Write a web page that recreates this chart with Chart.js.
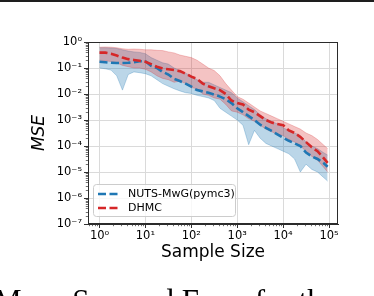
<!DOCTYPE html>
<html>
<head>
<meta charset="utf-8">
<script src="https://cdn.jsdelivr.net/npm/chart.js@4.4.1/dist/chart.umd.min.js"></script>
<style>
  html, body { margin: 0; padding: 0; background: #fff; }
  #wrap { position: relative; width: 374px; height: 296px; overflow: hidden; background: #fff; }
  #topline { position: absolute; left: 0; top: 0; width: 374px; height: 2px; background: #1e1e1e; }
  #caption { position: absolute; left: -6px; top: 285px; font-family: "Liberation Serif", serif; font-size: 31px; line-height: 31px; white-space: nowrap; color: #000; }
  canvas { position: absolute; left: 0; top: 0; }
</style>
</head>
<body>
<div id="wrap">
  <canvas id="c" width="374" height="296"></canvas>
  <div id="topline"></div>
  <div id="caption">Mean Squared Error for the</div>
</div>
<script>
// ---- data ----
const sampleSizes = [1, 1.33, 1.78, 2.37, 3.16, 4.22, 5.62, 7.5, 10, 13.3, 17.8, 23.7, 31.6, 42.2, 56.2, 75,
  100, 133, 178, 237, 316, 422, 562, 750, 1000, 1334, 1778, 2371, 3162, 4217, 5623, 7499,
  10000, 13335, 17783, 23714, 31623, 42170, 56234, 74989, 93325];

// MSE values given as exponents of ten (MSE = 10^e)
const nutsMeanExp = [-0.76,-0.78,-0.80,-0.81,-0.81,-0.80,-0.78,-0.74,-0.74,-0.92,-1.00,-1.15,-1.25,-1.42,-1.50,-1.60,
  -1.72,-1.85,-1.90,-1.95,-2.02,-2.10,-2.20,-2.35,-2.55,-2.70,-2.85,-3.00,-3.18,-3.30,-3.42,-3.55,
  -3.68,-3.80,-3.90,-4.00,-4.25,-4.40,-4.50,-4.65,-4.80];
const nutsUpperExp = [-0.22,-0.22,-0.23,-0.25,-0.30,-0.35,-0.38,-0.40,-0.45,-0.60,-0.70,-0.80,-0.85,-1.00,-1.10,-1.20,
  -1.30,-1.45,-1.55,-1.55,-1.65,-1.75,-1.85,-1.95,-2.15,-2.30,-2.45,-2.60,-2.80,-2.95,-3.05,-3.15,
  -3.30,-3.40,-3.50,-3.60,-3.85,-4.00,-4.10,-4.25,-4.35];
const nutsLowerExp = [-1.00,-1.03,-1.08,-1.30,-1.85,-1.25,-1.15,-1.18,-1.22,-1.30,-1.45,-1.60,-1.70,-1.80,-1.88,-1.95,
  -1.98,-2.05,-2.10,-2.15,-2.25,-2.55,-2.70,-2.85,-3.00,-3.20,-3.95,-3.40,-3.70,-3.90,-4.00,-4.10,
  -4.20,-4.30,-4.50,-5.00,-4.70,-4.90,-5.00,-5.20,-5.35];
const dhmcMeanExp = [-0.41,-0.41,-0.45,-0.52,-0.60,-0.66,-0.69,-0.72,-0.76,-0.85,-0.95,-1.02,-1.05,-1.08,-1.12,-1.22,
  -1.33,-1.42,-1.60,-1.70,-1.78,-1.85,-2.00,-2.25,-2.35,-2.40,-2.60,-2.70,-2.85,-3.00,-3.10,-3.15,
  -3.20,-3.40,-3.50,-3.65,-3.85,-4.05,-4.20,-4.45,-4.65];
const dhmcUpperExp = [-0.20,-0.19,-0.20,-0.22,-0.26,-0.28,-0.27,-0.28,-0.30,-0.30,-0.32,-0.33,-0.38,-0.42,-0.50,-0.55,
  -0.60,-0.70,-0.85,-1.00,-1.10,-1.30,-1.60,-1.85,-2.10,-2.20,-2.35,-2.50,-2.65,-2.75,-2.85,-2.95,
  -3.05,-3.15,-3.25,-3.35,-3.50,-3.60,-3.75,-3.95,-4.10];
const dhmcLowerExp = [-0.70,-0.72,-0.75,-0.80,-0.90,-0.95,-1.00,-1.00,-1.05,-1.15,-1.30,-1.40,-1.45,-1.55,-1.50,-1.60,
  -1.75,-1.80,-2.00,-2.05,-2.15,-2.20,-2.40,-2.65,-2.70,-2.80,-2.95,-3.05,-3.20,-3.35,-3.45,-3.55,
  -3.60,-3.75,-3.85,-4.00,-4.20,-4.40,-4.55,-4.80,-5.00];

const seriesNames = ['NUTS-MwG(pymc3)', 'DHMC'];
const xTickValues = [1, 10, 100, 1000, 10000, 100000];
const xTickLabels = ['10\u2070', '10\u00b9', '10\u00b2', '10\u00b3', '10\u2074', '10\u2075'];
const yTickValues = [1e-7, 1e-6, 1e-5, 1e-4, 1e-3, 1e-2, 1e-1, 1];
const yTickLabels = ['10\u207b\u2077', '10\u207b\u2076', '10\u207b\u2075', '10\u207b\u2074', '10\u207b\u00b3', '10\u207b\u00b2', '10\u207b\u00b9', '10\u2070'];
const xAxisTitle = 'Sample Size';
const yAxisTitle = 'MSE';

// ---- build ----
const pts = exps => exps.map((e, i) => ({ x: sampleSizes[i], y: Math.pow(10, e) }));
const BLUE = '#1f77b4', RED = '#d62728';
const FONT = '"DejaVu Sans", sans-serif';

const minorTicks = {
  id: 'minorTicksAndFrame',
  afterDatasetsDraw(chart) {
    const { ctx, chartArea: a } = chart;
    const xs = chart.scales.x, ys = chart.scales.y;
    ctx.save();
    ctx.strokeStyle = '#333';
    ctx.lineWidth = 0.7;
    ctx.beginPath();
    for (let d = -1; d <= 5; d++) {
      for (let m = 2; m <= 9; m++) {
        const v = m * Math.pow(10, d);
        if (v < xs.min || v > xs.max) continue;
        const p = Math.round(xs.getPixelForValue(v)) + 0.5;
        ctx.moveTo(p, a.bottom); ctx.lineTo(p, a.bottom + 2.2);
      }
    }
    for (let d = -7; d <= 0; d++) {
      for (let m = 2; m <= 9; m++) {
        const v = m * Math.pow(10, d);
        if (v < ys.min || v > ys.max) continue;
        const p = Math.round(ys.getPixelForValue(v)) + 0.5;
        ctx.moveTo(a.left, p); ctx.lineTo(a.left - 2.2, p);
      }
    }
    ctx.stroke();
    ctx.lineWidth = 1;
    ctx.strokeStyle = '#2b2b2b';
    ctx.strokeRect(Math.round(a.left) + 0.5, Math.round(a.top) + 0.5,
      Math.round(a.right) - Math.round(a.left) - 1, Math.round(a.bottom) - Math.round(a.top) - 1);
    ctx.restore();
  },
  afterDraw(chart) {
    const ctx = chart.ctx;
    const bx = 93, by = 184, bw = 142, bh = 32, r = 3;
    ctx.save();
    ctx.fillStyle = 'rgba(255,255,255,0.8)';
    ctx.strokeStyle = '#cccccc';
    ctx.lineWidth = 1;
    ctx.beginPath();
    ctx.roundRect(bx + 0.5, by + 0.5, bw, bh, r);
    ctx.fill(); ctx.stroke();
    const rows = [{ y: 194, c: BLUE, t: seriesNames[0] }, { y: 208, c: RED, t: seriesNames[1] }];
    ctx.font = '11px ' + FONT;
    ctx.textBaseline = 'middle';
    ctx.textAlign = 'left';
    rows.forEach(row => {
      ctx.strokeStyle = row.c;
      ctx.lineWidth = 2.5;
      ctx.setLineDash([8, 3.5]);
      ctx.beginPath(); ctx.moveTo(98, row.y); ctx.lineTo(119, row.y); ctx.stroke();
      ctx.setLineDash([]);
      ctx.fillStyle = '#000';
      ctx.fillText(row.t, 128, row.y + 0.5);
    });
    ctx.restore();
  }
};

const bandLine = (c) => ({ pointRadius: 0, borderWidth: 0.8, borderColor: c, tension: 0 });

new Chart(document.getElementById('c'), {
  type: 'line',
  data: {
    datasets: [
      Object.assign({ label: 'nutsUpper', data: pts(nutsUpperExp), fill: false, order: 3 }, bandLine('rgba(31,119,180,0.35)')),
      Object.assign({ label: 'nutsLower', data: pts(nutsLowerExp), fill: '-1', backgroundColor: 'rgba(31,119,180,0.3)', order: 3 }, bandLine('rgba(31,119,180,0.35)')),
      Object.assign({ label: 'dhmcUpper', data: pts(dhmcUpperExp), fill: false, order: 2 }, bandLine('rgba(214,39,40,0.3)')),
      Object.assign({ label: 'dhmcLower', data: pts(dhmcLowerExp), fill: '-1', backgroundColor: 'rgba(214,39,40,0.28)', order: 2 }, bandLine('rgba(214,39,40,0.3)')),
      { label: seriesNames[0], data: pts(nutsMeanExp), borderColor: BLUE, borderWidth: 2.6, borderDash: [8, 3.5], pointRadius: 0, fill: false, tension: 0, order: 1 },
      { label: seriesNames[1], data: pts(dhmcMeanExp), borderColor: RED, borderWidth: 2.6, borderDash: [8, 3.5], pointRadius: 0, fill: false, tension: 0, order: 0 }
    ]
  },
  options: {
    responsive: false,
    animation: false,
    devicePixelRatio: 1,
    layout: { padding: { left: 0, top: 42, right: 36, bottom: 0 } },
    plugins: { legend: { display: false }, tooltip: { enabled: false } },
    scales: {
      x: {
        type: 'logarithmic',
        min: 0.561, max: 157000,
        afterBuildTicks: s => { s.ticks = xTickValues.map(v => ({ value: v })); },
        afterFit: s => { s.height = 72; },
        ticks: { callback: (v, i) => xTickLabels[i], font: { family: FONT, size: 11.5 }, color: '#000', padding: 1, maxRotation: 0, autoSkip: false },
        grid: { color: '#dadada', lineWidth: 1, tickLength: 4, tickColor: '#333', tickWidth: 1 },
        border: { color: '#2b2b2b', width: 1 },
        title: { display: true, text: xAxisTitle, font: { family: FONT, size: 17 }, color: '#000', padding: { top: 0, bottom: 33 } }
      },
      y: {
        type: 'logarithmic',
        min: 1e-7, max: 1,
        afterBuildTicks: s => { s.ticks = yTickValues.map(v => ({ value: v })); },
        afterFit: s => { s.width = 88; },
        ticks: { callback: (v, i) => yTickLabels[i], font: { family: FONT, size: 11.5 }, color: '#000', padding: 2, autoSkip: false },
        grid: { color: '#dadada', lineWidth: 1, tickLength: 4, tickColor: '#333', tickWidth: 1 },
        border: { color: '#2b2b2b', width: 1 },
        title: { display: true, text: yAxisTitle, font: { family: FONT, size: 17, style: 'italic' }, color: '#000', padding: { top: 29, bottom: 0 } }
      }
    }
  },
  plugins: [minorTicks]
});
</script>
</body>
</html>
